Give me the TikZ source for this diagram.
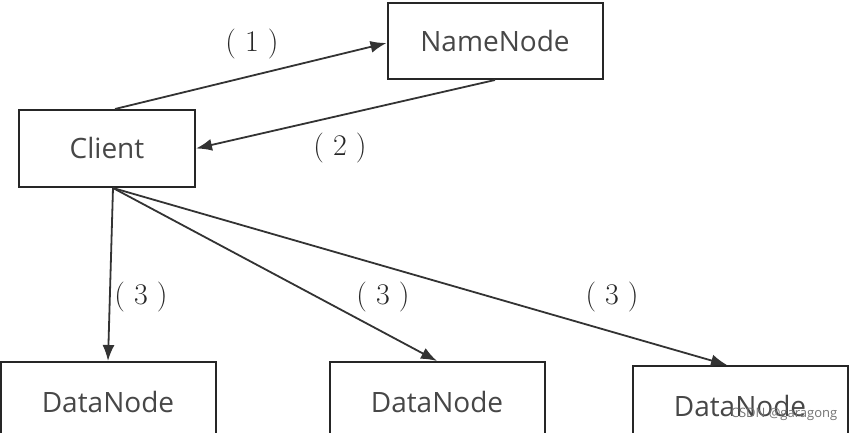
\documentclass[tikz,border=0pt]{standalone}
\usepackage{fontspec}
\setsansfont{Open Sans}
\usetikzlibrary{arrows.meta}
\begin{document}
\begin{tikzpicture}[x=1pt,y=-1pt,
  box/.style={draw=black!85,line width=2pt,fill=white,inner sep=0pt,font=\sffamily\fontsize{28}{30}\selectfont,text=black!72},
  conn/.style={draw=black!80,line width=1.8pt,-{Latex[length=16pt,width=12pt]}},
  lbl/.style={font=\fontsize{30}{32}\selectfont,text=black!85,inner sep=0pt}]
\useasboundingbox (0,0) rectangle (852,433);
\clip (0,0) rectangle (852,433);
\node[box,minimum width=215pt,minimum height=76pt] (nn) at (495,41) {NameNode};
\node[box,minimum width=176pt,minimum height=77pt] (cl) at (107,148.5) {Client};
\node[box,minimum width=215pt,minimum height=80pt] (d1) at (108,402) {DataNode};
\node[box,minimum width=215pt,minimum height=80pt] (d2) at (437,402) {DataNode};
\node[box,minimum width=215pt,minimum height=80pt] (d3) at (740,406) {DataNode};
\draw[conn] ([xshift=8pt]cl.north) -- ([yshift=-2pt]nn.west);
\draw[conn] (nn.south) -- (cl.east);
\draw[conn] ([xshift=6pt]cl.south) -- (d1.north);
\draw[conn] ([xshift=6pt]cl.south) -- (d2.north);
\draw[conn] ([xshift=6pt]cl.south) -- ([xshift=-13pt]d3.north);
\node[lbl] (l1) at (252,44) {(\hspace{0.3em}1\hspace{0.3em})};
\node[lbl] (l2) at (340,148) {(\hspace{0.3em}2\hspace{0.3em})};
\node[lbl] (l3a) at (141,297) {(\hspace{0.3em}3\hspace{0.3em})};
\node[lbl] (l3b) at (383,297) {(\hspace{0.3em}3\hspace{0.3em})};
\node[lbl] (l3c) at (612,297) {(\hspace{0.3em}3\hspace{0.3em})};
\node[font=\sffamily\fontsize{13}{14}\selectfont,text=black!55,inner sep=0pt] (wm) at (784,414) {CSDN @garagong};
\end{tikzpicture}
\end{document}
